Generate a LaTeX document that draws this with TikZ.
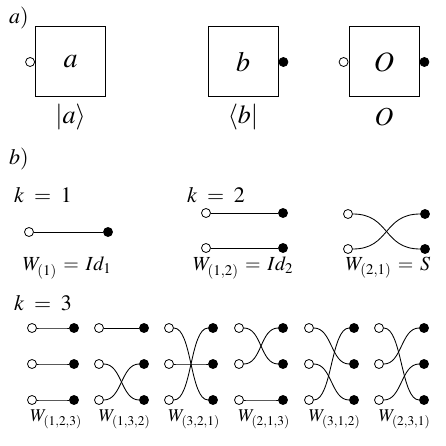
\documentclass[tikz,border=0pt]{standalone}
\usepackage{mathptmx}
\begin{document}
\begin{tikzpicture}[x=1pt,y=-1pt,
  box/.style={draw,line width=1pt,minimum size=70pt,inner sep=0pt,font=\fontsize{28}{32}\selectfont},
  opendot/.style={circle,draw,fill=white,line width=0.8pt,minimum size=9pt,inner sep=0pt},
  fulldot/.style={circle,draw,fill=black,line width=0.8pt,minimum size=9pt,inner sep=0pt},
  wire/.style={line width=0.85pt},
  lbl/.style={font=\fontsize{26}{30}\selectfont,inner sep=0pt},
  part/.style={font=\fontsize{22}{26}\selectfont,inner sep=0pt,anchor=west},
  kl/.style={font=\fontsize{22}{26}\selectfont,inner sep=0pt,anchor=west},
  wl/.style={font=\fontsize{20}{24}\selectfont,inner sep=0pt},
  wk/.style={font=\fontsize{18}{22}\selectfont,inner sep=0pt}]
\useasboundingbox (0,0) rectangle (445,446);
% part a
\node[part] (pa) at (9,18) {$a)$};
\node[box] (ba) at (70.5,62) {$a$};
\node[box] (bb) at (243,62) {$b$};
\node[box] (bo) at (384,62) {$O$};
\node[opendot,anchor=east] (ca) at (ba.west) {};
\node[fulldot,anchor=west] (cb) at (bb.east) {};
\node[opendot,anchor=east] (co1) at (bo.west) {};
\node[fulldot,anchor=west] (co2) at (bo.east) {};
\node[lbl] (la) at (70.5,117) {$|a\rangle$};
\node[lbl] (lb) at (243,117) {$\langle b|$};
\node[lbl] (lo) at (384,117) {$O$};
% part b
\node[part] (pb) at (9,159) {$b)$};
\node[kl] (k1) at (14,195) {$k\;=\;1$};
\node[kl] (k2) at (187,195) {$k\;=\;2$};
\node[kl] (k3) at (14,303) {$k\;=\;3$};
% k=1
\node[opendot] (a1o) at (29,232) {};
\node[fulldot] (a1f) at (108,232) {};
\draw[wire] (a1o) -- (a1f);
\node[wl] (wa) at (67,268) {$W_{(1)}\,=\,Id_1$};
% k=2 identity
\node[opendot] (b1o) at (206,213) {};
\node[fulldot] (b1f) at (283,213) {};
\node[opendot] (b2o) at (206,248) {};
\node[fulldot] (b2f) at (283,248) {};
\draw[wire] (b1o) -- (b1f);
\draw[wire] (b2o) -- (b2f);
\node[wl] (wb) at (243,268) {$W_{(1,2)}\,=\,Id_2$};
% k=2 swap
\node[opendot] (s1o) at (348,214) {};
\node[fulldot] (s1f) at (425,214) {};
\node[opendot] (s2o) at (348,249) {};
\node[fulldot] (s2f) at (425,249) {};
\draw[wire] (s1o) .. controls +(42,0) and +(-42,0) .. (s2f);
\draw[wire] (s2o) .. controls +(42,0) and +(-42,0) .. (s1f);
\node[wl] (ws) at (388,268) {$W_{(2,1)}\,=\,S$};
% k=3
\foreach \c/\ox/\fx/\pa/\pb/\pc/\name in {
  0/32/74/1/2/3/{1,2,3},
  1/99/144/1/3/2/{1,3,2},
  2/169/213/3/2/1/{3,2,1},
  3/239/283/2/1/3/{2,1,3},
  4/309/354/2/3/1/{3,1,2},
  5/379/424/3/1/2/{2,3,1}}{
  \foreach \r/\y in {1/328,2/364,3/400}{
    \node[opendot] (o\c-\r) at (\ox,\y) {};
    \node[fulldot] (f\c-\r) at (\fx,\y) {};
  }
  \draw[wire] (o\c-1) .. controls +(23,0) and +(-23,0) .. (f\c-\pa);
  \draw[wire] (o\c-2) .. controls +(23,0) and +(-23,0) .. (f\c-\pb);
  \draw[wire] (o\c-3) .. controls +(23,0) and +(-23,0) .. (f\c-\pc);
  \node[wk] (w\c) at ({(\ox+\fx)/2+3},419) {$W_{(\name)}$};
}
\end{tikzpicture}
\end{document}
